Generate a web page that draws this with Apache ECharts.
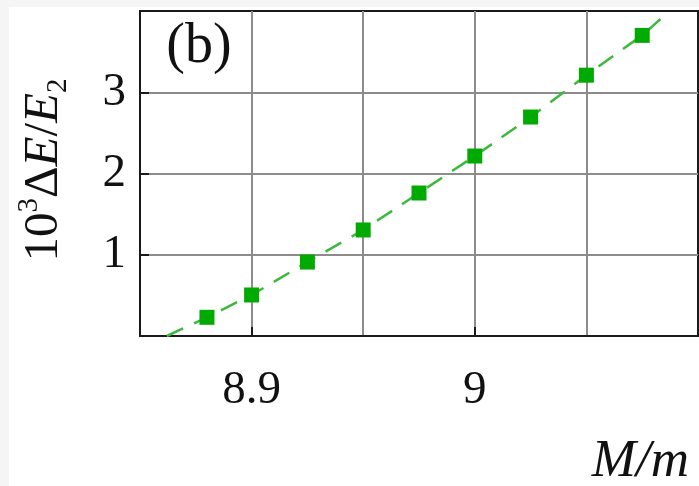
<!DOCTYPE html>
<html>
<head>
<meta charset="utf-8">
<script src="https://cdn.jsdelivr.net/npm/echarts@6/dist/echarts.min.js"></script>
<style>
  html, body { margin: 0; padding: 0; background: #f5f5f5; }
  #wrap { position: relative; width: 699px; height: 486px; overflow: hidden; }
  #paper { position: absolute; left: 9px; top: 7px; right: 0; bottom: 0; background: #ffffff; }
  #chart { position: absolute; left: 0; top: 0; width: 699px; height: 486px; }
</style>
</head>
<body>
<div id="wrap">
  <div id="paper"></div>
  <div id="chart"></div>
</div>
<script>
// Mass ratio M/m and energy splitting 10^3 ΔE/E2
const massRatio = [8.88, 8.9, 8.925, 8.95, 8.975, 9.0, 9.025, 9.05, 9.075];
const splitting = [0.23, 0.505, 0.91, 1.305, 1.76, 2.215, 2.695, 3.21, 3.70];

// Dashed guide curve through the data
const curveX = [8.862, 8.88, 8.9, 8.925, 8.95, 8.975, 9.0, 9.025, 9.05, 9.075, 9.084];
const curveY = [0.0, 0.23, 0.505, 0.91, 1.305, 1.76, 2.215, 2.695, 3.21, 3.70, 3.92];

const xTickLabels = [8.9, 9.0];
const yTickLabels = [1, 2, 3];

const serif = '"Liberation Serif", "DejaVu Serif", serif';
const ink = '#1a1a1a';
const gridGray = '#8c8c8c';

const chart = echarts.init(document.getElementById('chart'), null, { renderer: 'canvas' });

chart.setOption({
  backgroundColor: 'transparent',
  animation: false,
  grid: {
    left: 140, top: 11, right: 1, bottom: 150,
    show: true, borderColor: ink, borderWidth: 2, backgroundColor: 'transparent'
  },
  xAxis: [
    {
      type: 'value',
      min: 8.85, max: 9.1, interval: 0.05,
      axisLine: { show: true, lineStyle: { color: ink, width: 2 } },
      axisTick: { show: false },
      axisLabel: {
        customValues: xTickLabels,
        margin: 31,
        fontFamily: serif, fontSize: 47, color: '#111',
        formatter: v => (Math.abs(v - 9) < 1e-9 ? '9' : String(+v.toFixed(2)))
      },
      splitLine: { show: true, showMinLine: false, showMaxLine: false,
        lineStyle: { color: gridGray, width: 2 } }
    },
    {
      // tick marks only at the labelled values
      type: 'value',
      position: 'bottom',
      min: 8.85, max: 9.1, interval: 0.05,
      axisLine: { show: false },
      axisTick: { show: true, inside: true, length: 9, customValues: xTickLabels,
        lineStyle: { color: ink, width: 2 } },
      axisLabel: { show: false },
      splitLine: { show: false }
    }
  ],
  yAxis: {
    type: 'value',
    min: 0, max: 4, interval: 1,
    axisLine: { show: true, lineStyle: { color: ink, width: 2 } },
    axisTick: { show: true, inside: true, length: 9,
      lineStyle: { color: ink, width: 2 } },
    axisLabel: {
      customValues: yTickLabels,
      margin: 14,
      fontFamily: serif, fontSize: 47, color: '#111'
    },
    splitLine: { show: true, showMinLine: false, showMaxLine: false,
      lineStyle: { color: gridGray, width: 2 } }
  },
  series: [
    {
      type: 'line',
      data: curveX.map((x, i) => [x, curveY[i]]),
      showSymbol: false,
      symbol: 'none',
      lineStyle: { color: '#3cb83c', width: 2.5, type: [18, 12] },
      z: 2
    },
    {
      type: 'scatter',
      data: massRatio.map((x, i) => [x, splitting[i]]),
      symbol: 'rect',
      symbolSize: 15,
      itemStyle: { color: '#00aa00', opacity: 1 },
      z: 3
    }
  ],
  graphic: [
    {
      type: 'text',
      x: 199, y: 47,
      style: { text: '(b)', fontFamily: serif, fontSize: 56, fill: '#111',
        align: 'center', verticalAlign: 'middle' }
    },
    {
      type: 'text',
      x: 689, y: 462,
      style: {
        text: 'M/m', fontFamily: serif, fontSize: 53, fontStyle: 'italic', fill: '#111',
        align: 'right', verticalAlign: 'middle'
      }
    },
    {
      type: 'text',
      x: 44, y: 170,
      rotation: Math.PI / 2,
      style: {
        text: '{n|10}{sup|3}{n|Δ}{i|E}{n|/}{i|E}{sub|2}',
        align: 'center', verticalAlign: 'middle',
        fill: '#111',
        rich: {
          n: { fontFamily: serif, fontSize: 49, lineHeight: 58, fill: '#111' },
          i: { fontFamily: serif, fontSize: 49, lineHeight: 58, fontStyle: 'italic', fill: '#111' },
          sup: { fontFamily: serif, fontSize: 29, lineHeight: 58, verticalAlign: 'top', padding: [0, 0, 18, 0], fill: '#111' },
          sub: { fontFamily: serif, fontSize: 29, lineHeight: 58, verticalAlign: 'bottom', padding: [16, 0, 0, 0], fill: '#111' }
        }
      }
    }
  ]
});
</script>
</body>
</html>
